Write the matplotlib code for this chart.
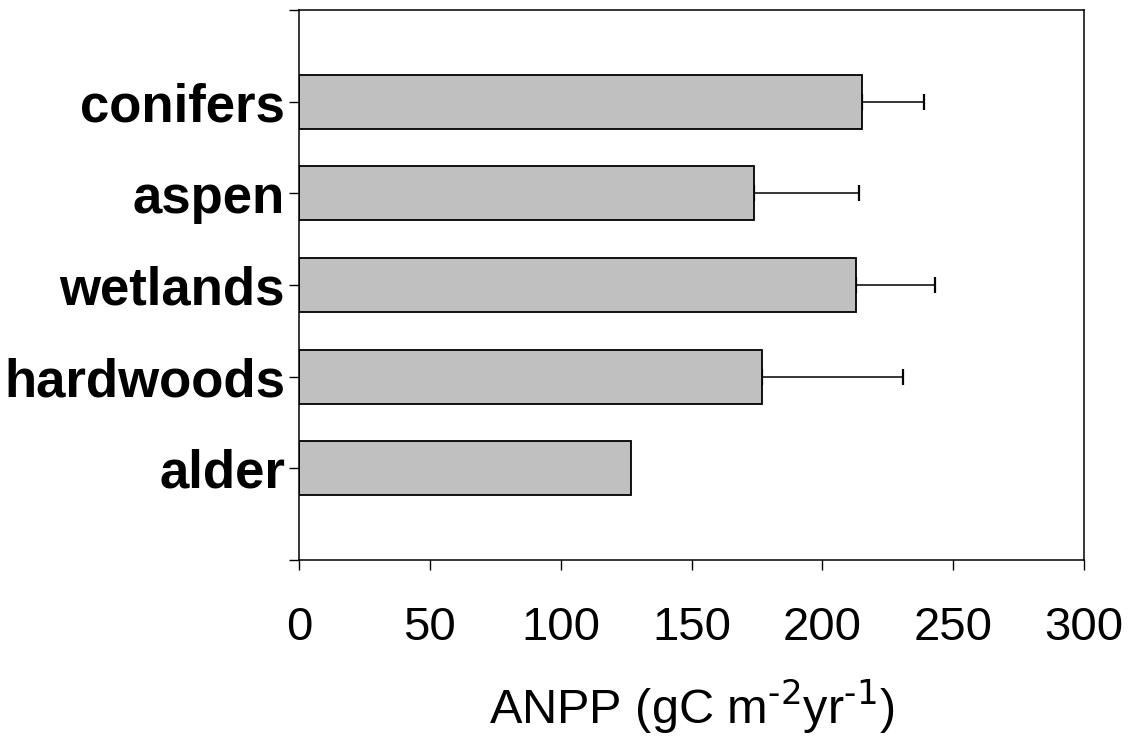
import matplotlib
matplotlib.use("Agg")
import matplotlib.pyplot as plt
import numpy as np

plt.rcParams['font.family'] = ['Liberation Sans', 'DejaVu Sans']
plt.rcParams['mathtext.default'] = 'regular'

categories = ["conifers", "aspen", "wetlands", "hardwoods", "alder"]
anpp = [215, 174, 213, 177, 127]
err_upper = [24, 40, 30, 54, 0]
x_ticks = [0, 50, 100, 150, 200, 250, 300]

fig = plt.figure(figsize=(11.33, 7.40), dpi=100)
ax = fig.add_axes([299/1133, 1 - 560/740, (1084-299)/1133, 550/740])

pos = np.arange(1, len(categories) + 1)
ax.barh(pos, anpp, height=0.59, color='#c0c0c0', edgecolor='black', linewidth=1.3, zorder=2)
for p, v, e in zip(pos, anpp, err_upper):
    if e > 0:
        ax.errorbar(v, p, xerr=[[0], [e]], fmt='none', ecolor='black', elinewidth=1.1,
                    capsize=5.8, capthick=1.6, zorder=1)

ax.set_ylim(6, 0)
ax.set_xlim(0, 300)
ax.set_yticks(range(0, 7))
ax.set_yticklabels([""] + categories + [""], fontsize=38, fontweight='bold')
ax.set_xticks(x_ticks)
ax.set_xticklabels([str(t) for t in x_ticks], fontsize=34)
ax.tick_params(axis='both', direction='out', length=7, width=1, color='black')
ax.tick_params(axis='x', pad=26)
ax.tick_params(axis='y', pad=3)
for s in ax.spines.values():
    s.set_linewidth(1.1)
    s.set_color('black')
ax.set_xlabel(r"ANPP (gC m$^{\text{-2}}$yr$^{\text{-1}}$)", fontsize=35, labelpad=20)

fig.savefig("out.png", dpi=100)
